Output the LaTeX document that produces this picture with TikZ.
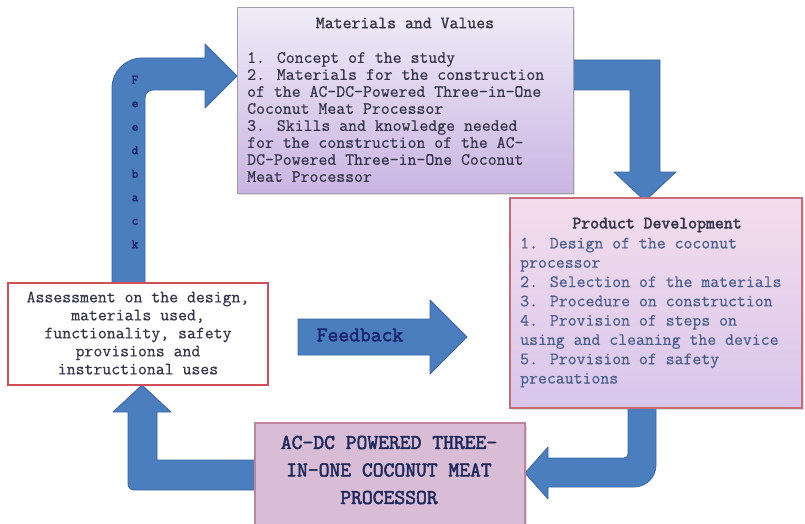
\documentclass[tikz,border=0pt]{standalone}
\usepackage{fontspec}
\setmainfont[AutoFakeBold=2.5]{Latin Modern Mono}
\newfontfamily\bodyfont[FakeBold=0.5]{Latin Modern Mono}
\newfontfamily\titlefont[FakeBold=1.2]{Latin Modern Mono}
\usetikzlibrary{shadows}
\definecolor{arrowfill}{HTML}{4A7EBF}
\definecolor{arrowline}{HTML}{3A66A0}
\definecolor{matTop}{HTML}{EFECF7}
\definecolor{matBot}{HTML}{CAB5E3}
\definecolor{matBorder}{HTML}{A39CB0}
\definecolor{pdTop}{HTML}{F3DDEC}
\definecolor{pdBot}{HTML}{D8C6EC}
\definecolor{pdBorder}{HTML}{C86A78}
\definecolor{asBorder}{HTML}{D0505A}
\definecolor{acFill}{HTML}{D9BCD6}
\definecolor{acBorder}{HTML}{C0849C}
\definecolor{txtDark}{HTML}{34344A}
\definecolor{txtBlue}{HTML}{4A5F90}
\definecolor{navy}{HTML}{1E2A5E}
\tikzset{
  blockarrow/.style={fill=arrowfill, draw=arrowline, line width=0.8pt, line join=round},
  boxshadow/.style={drop shadow={opacity=0.25, shadow xshift=2pt, shadow yshift=-2pt}},
  matbox/.style={draw=matBorder, line width=1pt, top color=matTop, bottom color=matBot, boxshadow, inner sep=0pt},
  pdbox/.style={draw=pdBorder, line width=1.2pt, top color=pdTop, bottom color=pdBot, boxshadow, inner sep=0pt},
  asbox/.style={draw=asBorder, line width=1.3pt, fill=white, inner sep=0pt},
  acbox/.style={draw=acBorder, line width=1.2pt, fill=acFill, boxshadow, inner sep=0pt},
  bodytxt/.style={inner sep=0pt, align=left, anchor=west},
}
\begin{document}
\begin{tikzpicture}[x=1pt,y=-1pt]
\clip (0,0) rectangle (805,524);
\fill[white] (0,0) rectangle (805,524);

% block arrows
\draw[blockarrow] (112,283) [rounded corners=30] -- (112,58) [sharp corners] -- (205,58) -- (205,44) -- (237,76) -- (205,108) -- (205,90) [rounded corners=8] -- (145,90) [sharp corners] -- (145,283) -- cycle;
\draw[blockarrow] (573,60) -- (660,60) -- (660,172) -- (676,172) -- (645,201) -- (614,172) -- (630,172) -- (630,90) -- (573,90) -- cycle;
\draw[blockarrow] (628,408) [rounded corners=4] -- (628,458) [sharp corners] -- (548,458) -- (548,447) -- (525,473) -- (548,499) -- (548,487) [rounded corners=22] -- (656,487) [sharp corners] -- (656,408) -- cycle;
\draw[blockarrow] (255,460) -- (157,460) -- (157,412) -- (171,412) -- (142,385) -- (113,412) -- (128,412) [rounded corners=6] -- (128,490) [sharp corners] -- (255,490) -- cycle;
\draw[blockarrow] (298,319) -- (430,319) -- (430,300) -- (467,337) -- (430,374) -- (430,355) -- (298,355) -- cycle;

% boxes
\node[matbox, minimum width=336pt, minimum height=185pt] (mat) at (405,100.5) {};
\node[pdbox, minimum width=292pt, minimum height=210pt] (pd) at (656,303) {};
\node[asbox, minimum width=260pt, minimum height=102pt] (as) at (138,334) {};
\node[acbox, minimum width=270pt, minimum height=106pt] (ac) at (390,476) {};

% texts
\node[inner sep=0pt, text=txtDark, font=\titlefont\fontsize{17.3}{17}\selectfont] (matT) at (405,23) {Materials and Values};
\node[bodytxt, text=txtDark, font=\bodyfont\fontsize{17.3}{17}\selectfont] (matB) at (247,117) {1. Concept of the study\\
2. Materials for the construction\\
of the AC-DC-Powered Three-in-One\\
Coconut Meat Processor\\
3.  Skills and knowledge needed\\
for the construction of the  AC-\\
DC-Powered Three-in-One Coconut\\
Meat Processor};

\node[inner sep=0pt, text=txtDark, font=\fontsize{17.3}{17}\selectfont\bfseries] (pdT) at (657,225) {Product Development};
\node[bodytxt, text=txtBlue, font=\bodyfont\fontsize{17.3}{19.3}\selectfont] (pdB) at (520,312.5) {1. Design of the coconut\\
processor\\
2. Selection of the materials\\
3. Procedure on construction\\
4. Provision of steps on\\
using and cleaning the device\\
5. Provision of safety\\
precautions};

\node[inner sep=0pt, align=center, text=txtDark, font=\bodyfont\fontsize{17.3}{18}\selectfont] (asT) at (138,333) {Assessment on the design,\\
materials used,\\
functionality, safety\\
provisions and\\
instructional uses};

\node[inner sep=0pt, align=center, text=navy, font=\fontsize{21}{27.5}\selectfont\bfseries] (acT) at (389,470) {AC-DC POWERED THREE-\\
IN-ONE COCONUT MEAT\\
PROCESSOR};

\node[inner sep=0pt, text=navy!90!blue, font=\fontsize{21}{20}\selectfont\bfseries] (fbT) at (360,335) {Feedback};
\node[inner sep=0pt, align=center, text=navy!90!blue, font=\fontsize{13}{23.5}\selectfont\bfseries] (fbV) at (135,162) {F\\e\\e\\d\\b\\a\\c\\k};
\end{tikzpicture}
\end{document}
